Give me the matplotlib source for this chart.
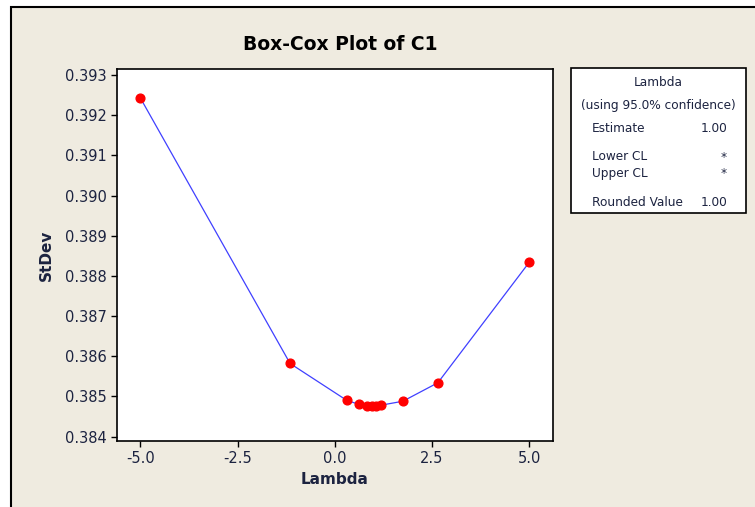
import matplotlib.pyplot as plt
from matplotlib.patches import Rectangle

# Box-Cox search points
lam = [-5.0, -1.15, 0.31, 0.63, 0.83, 0.95, 1.06, 1.18, 1.75, 2.65, 5.0]
stdev = [0.39243, 0.38582, 0.38490, 0.38480, 0.38477, 0.38476, 0.38476, 0.38478, 0.38488, 0.38534, 0.38834]

x_ticks = [-5.0, -2.5, 0.0, 2.5, 5.0]
y_ticks = [0.384, 0.385, 0.386, 0.387, 0.388, 0.389, 0.390, 0.391, 0.392, 0.393]

legend_rows = [('Estimate', '1.00'), ('Lower CL', '*'), ('Upper CL', '*'), ('Rounded Value', '1.00')]

W, H = 755, 507
bg = '#efebe0'
txt = '#1c2340'

fig = plt.figure(figsize=(W / 100, H / 100), dpi=100, facecolor='white')

# beige panel with black border (runs off right/bottom edge)
fig.patches.append(Rectangle((11 / W, -0.05), 1.1, 1 - 7 / H + 0.05, transform=fig.transFigure,
                             facecolor=bg, edgecolor='black', linewidth=1.5, zorder=-1))

ax = fig.add_axes([117 / W, 1 - 441 / H, (553 - 117) / W, (441 - 69) / H])
ax.plot(lam, stdev, color='#4040ff', linewidth=0.9, marker='o', markersize=6.3,
        markerfacecolor='red', markeredgecolor='red')
ax.set_xlim(-5.6, 5.61)
ax.set_ylim(0.38389, 0.39315)
ax.set_xticks(x_ticks)
ax.set_xticklabels([f'{v:.1f}' for v in x_ticks])
ax.set_yticks(y_ticks)
ax.set_yticklabels([f'{v:.3f}' for v in y_ticks])
ax.tick_params(direction='out', length=4, width=1, labelsize=10.5, colors='black', labelcolor=txt)
for s in ax.spines.values():
    s.set_linewidth(1.2)

ax.set_xlabel('Lambda', fontsize=11, fontweight='bold', color=txt, labelpad=4)
ax.set_ylabel('StDev', fontsize=11, fontweight='bold', color=txt, labelpad=8)
fig.text(340 / W, 1 - 45 / H, 'Box-Cox Plot of C1', ha='center', va='center',
         fontsize=13.5, fontweight='bold', color='black')

# legend box
fig.patches.append(Rectangle((571 / W, 1 - 213 / H), (746 - 571) / W, (213 - 68) / H,
                             transform=fig.transFigure, facecolor='white', edgecolor='black',
                             linewidth=1.2))
fig.text(658 / W, 1 - 83 / H, 'Lambda', ha='center', va='center', fontsize=8.7, color=txt)
fig.text(658 / W, 1 - 105 / H, '(using 95.0% confidence)', ha='center', va='center', fontsize=8.7, color=txt)
row_y = [129, 157, 174, 202]
for (name, val), yy in zip(legend_rows, row_y):
    fig.text(592 / W, 1 - yy / H, name, ha='left', va='center', fontsize=8.7, color=txt)
    fig.text(727 / W, 1 - yy / H, val, ha='right', va='center', fontsize=8.7, color=txt)

fig.savefig('out.png', dpi=100, facecolor='white')
